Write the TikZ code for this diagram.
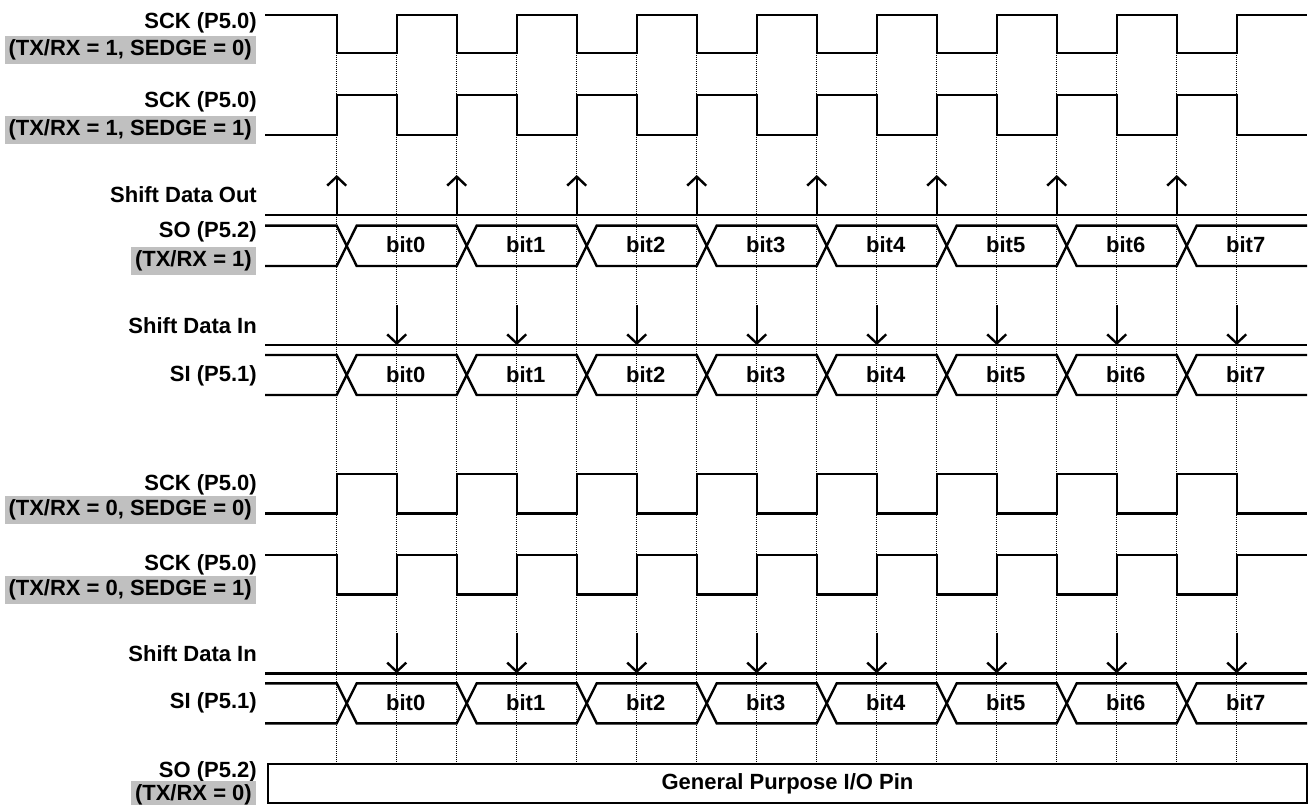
\documentclass[tikz,border=0pt]{standalone}
\usepackage{fontspec}
\setmainfont{Liberation Sans}
\usetikzlibrary{arrows.meta}
\definecolor{lblgray}{RGB}{192,192,192}
\def\xz{336.7}
\newcommand\myclk[2]{%
  \draw[sig] (265,#1) \foreach \k in {0,...,7} { -- ({\xz+120*\k},#1) -- ({\xz+120*\k},#2) -- ({\xz+120*\k+60},#2) -- ({\xz+120*\k+60},#1) } -- (1307,#1);}
\newcommand\mybus[3]{%
  \draw[sig] (265,#1) \foreach \j in {0,...,3} { -- ({\xz+240*\j},#1) -- ({\xz+240*\j+20},#2) -- ({\xz+240*\j+120},#2) -- ({\xz+240*\j+140},#1) } -- (1307,#1);
  \draw[sig] (265,#2) \foreach \j in {0,...,3} { -- ({\xz+240*\j},#2) -- ({\xz+240*\j+20},#1) -- ({\xz+240*\j+120},#1) -- ({\xz+240*\j+140},#2) } -- (1307,#2);
  \foreach \i in {0,...,7} { \node[bitlbl] at ({\xz+120*\i+69},#3) {bit\i}; }}
\begin{document}
\begin{tikzpicture}[x=1pt,y=-1pt,
  sig/.style={line width=2.4pt, line join=miter},
  gridline/.style={line width=1pt, dash pattern=on 1pt off 1pt},
  lbl/.style={font=\fontsize{22}{24}\selectfont\bfseries, inner sep=0pt, anchor=base east},
  glbl/.style={lbl, fill=lblgray, inner xsep=4pt, inner ysep=4pt, text height=15.5pt, text depth=4.5pt},
  bitlbl/.style={font=\fontsize{22}{24}\selectfont\bfseries, inner sep=0pt, anchor=base},
  arr/.style={line width=2.4pt, -{Straight Barb[length=9pt,width=19pt]}},
]
\useasboundingbox (0,0) rectangle (1309,805);
% dotted timing grid
\foreach \k in {0,...,15} { \draw[gridline] ({\xz+60*\k},15) -- ({\xz+60*\k},764); }
% clocks
\myclk{15}{53.3}
\myclk{135}{95}
\myclk{513.3}{474}
\myclk{555}{594.3}
% shift data out
\draw[sig] (265,215) -- (1307,215);
\foreach \i in {0,...,7} { \draw[arr] ({\xz+120*\i},215) -- ({\xz+120*\i},175); }
% SO bus
\mybus{225.7}{266}{252}
% shift data in 1
\draw[sig] (265,345) -- (1307,345);
\foreach \i in {0,...,7} { \draw[arr] ({\xz+120*\i+60},305) -- ({\xz+120*\i+60},345); }
\mybus{355}{395}{382}
% shift data in 2
\draw[sig] (265,673.3) -- (1307,673.3);
\foreach \i in {0,...,7} { \draw[arr] ({\xz+120*\i+60},633.3) -- ({\xz+120*\i+60},673.3); }
\mybus{683.3}{723.3}{710}
% GPIO box
\node (gpio) [draw, line width=2.4pt, minimum width=1039pt, minimum height=39.5pt, inner sep=0pt,
  font=\fontsize{22}{24}\selectfont\bfseries] at (787.5,783.5) {General Purpose I/O Pin};
% labels
\node (l1) [lbl] at (257,29) {SCK (P5.0)};
\node (g1) [glbl] at (256,56) {(TX/RX = 1, SEDGE = 0)};
\node (l2) [lbl] at (257,108) {SCK (P5.0)};
\node (g2) [glbl] at (256,136) {(TX/RX = 1, SEDGE = 1)};
\node (l3) [lbl] at (257,203) {Shift Data Out};
\node (l4) [lbl] at (257,237.5) {SO (P5.2)};
\node (g4) [glbl] at (256,266) {(TX/RX = 1)};
\node (l5) [lbl] at (257,333) {Shift Data In};
\node (l6) [lbl] at (257,381) {SI (P5.1)};
\node (l7) [lbl] at (257,490) {SCK (P5.0)};
\node (g7) [glbl] at (256,515.5) {(TX/RX = 0, SEDGE = 0)};
\node (l8) [lbl] at (257,570) {SCK (P5.0)};
\node (g8) [glbl] at (256,595.5) {(TX/RX = 0, SEDGE = 1)};
\node (l9) [lbl] at (257,661.5) {Shift Data In};
\node (l10) [lbl] at (257,708) {SI (P5.1)};
\node (l11) [lbl] at (257,777.5) {SO (P5.2)};
\node (g11) [glbl] at (256,800) {(TX/RX = 0)};
\end{tikzpicture}
\end{document}
